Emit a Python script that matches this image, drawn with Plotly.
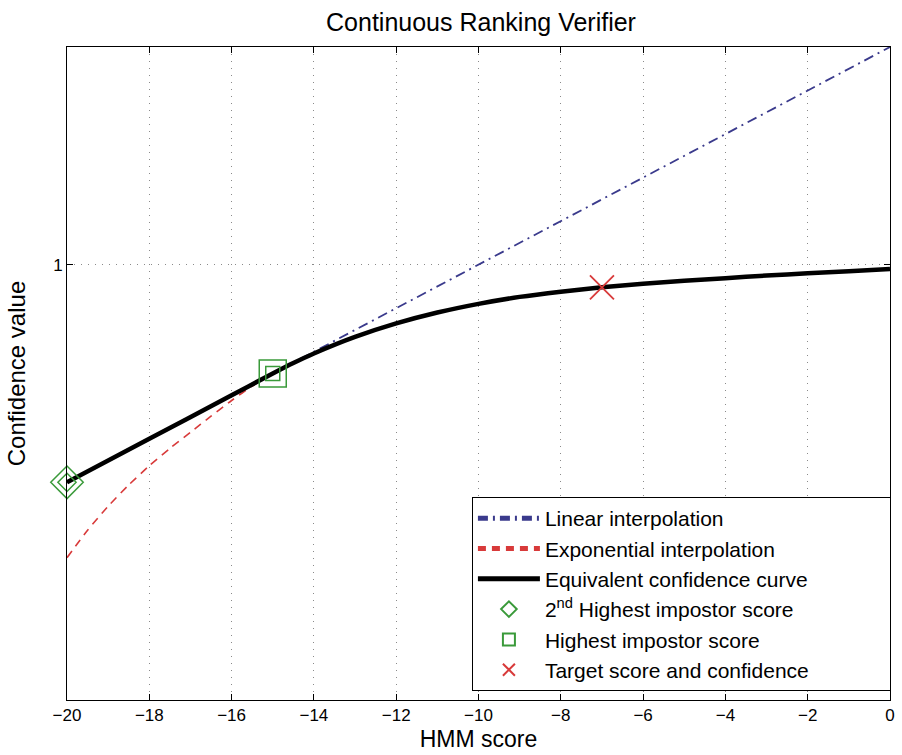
import plotly.graph_objects as go

# ---- data ----
x_lin = [-20, 0]
y_lin = [0.5, 1.5]

x_exp = [-20, -19.5, -19, -18.5, -18, -17.5, -17, -16.5, -16, -15.5, -15, -14.5, -14, -13, -12, -11, -10, -9, -8, -7, -6, -5, -4, -3, -2, -1, 0]
y_exp = [0.327, 0.39, 0.445, 0.494, 0.538, 0.578, 0.615, 0.652, 0.688, 0.721, 0.75, 0.774, 0.796, 0.834, 0.865, 0.89, 0.91, 0.926, 0.938, 0.948, 0.956, 0.963, 0.969, 0.975, 0.980, 0.985, 0.990]

x_eq = [-20, -18, -16, -15, -14.5, -14, -13, -12, -11, -10, -9, -8, -7, -6, -5, -4, -3, -2, -1, 0]
y_eq = [0.5, 0.6, 0.7, 0.75, 0.774, 0.796, 0.834, 0.865, 0.89, 0.91, 0.926, 0.938, 0.948, 0.956, 0.963, 0.969, 0.975, 0.980, 0.985, 0.990]

imp2_x, imp2_y = [-20], [0.5]
imp1_x, imp1_y = [-15], [0.75]
target_x, target_y = [-7], [0.948]

x_ticks = [-20, -18, -16, -14, -12, -10, -8, -6, -4, -2, 0]
y_ticks = [1]

GREEN = "#3a9a3a"
RED = "#d83a3a"
BLUE = "#3a3a8c"
FONT = "Liberation Sans, Arial, sans-serif"

fig = go.Figure()

fig.add_trace(go.Scatter(x=x_lin, y=y_lin, mode="lines", name="Linear interpolation",
                         line=dict(color=BLUE, width=1.8, dash="10px,5px,2px,5px")))
fig.add_trace(go.Scatter(x=x_exp, y=y_exp, mode="lines", name="Exponential interpolation",
                         line=dict(color=RED, width=1.6, dash="8px,6px", shape="spline", smoothing=0.6)))
fig.add_trace(go.Scatter(x=x_eq, y=y_eq, mode="lines", name="Equivalent confidence curve",
                         line=dict(color="black", width=4.5, shape="spline", smoothing=0.8)))

# big outer markers (no legend)
fig.add_trace(go.Scatter(x=imp2_x, y=imp2_y, mode="markers", showlegend=False, cliponaxis=False,
                         marker=dict(symbol="diamond-open", size=25, color=GREEN, line=dict(width=1.5, color=GREEN))))
fig.add_trace(go.Scatter(x=imp1_x, y=imp1_y, mode="markers", showlegend=False, cliponaxis=False,
                         marker=dict(symbol="square-open", size=27, color=GREEN, line=dict(width=1.5, color=GREEN))))

# inner markers with legend entries
fig.add_trace(go.Scatter(x=imp2_x, y=imp2_y, mode="markers", name="2<sup>nd</sup> Highest impostor score",
                         cliponaxis=False,
                         marker=dict(symbol="diamond-open", size=14, color=GREEN, line=dict(width=1.5, color=GREEN))))
fig.add_trace(go.Scatter(x=imp1_x, y=imp1_y, mode="markers", name="Highest impostor score",
                         cliponaxis=False,
                         marker=dict(symbol="square-open", size=14, color=GREEN, line=dict(width=1.5, color=GREEN))))
fig.add_trace(go.Scatter(x=target_x, y=target_y, mode="markers", name="Target score and confidence",
                         cliponaxis=False,
                         marker=dict(symbol="x-thin-open", size=24, color=RED, line=dict(width=1.8, color=RED))))

axis_common = dict(showline=True, linecolor="black", linewidth=1, mirror="ticks",
                   ticks="inside", ticklen=6, tickcolor="black",
                   showgrid=True, gridcolor="#8a8a8a", griddash="1px,6px", gridwidth=1.2,
                   zeroline=False, tickfont=dict(family=FONT, size=17, color="black"))

fig.update_xaxes(range=[-20, 0], tickvals=x_ticks,
                 title=dict(text="HMM score", font=dict(family=FONT, size=23, color="black"), standoff=6),
                 **axis_common)
fig.update_yaxes(range=[0, 1.5], tickvals=y_ticks, ticktext=["1"],
                 title=dict(text="Confidence value", font=dict(family=FONT, size=24, color="black"), standoff=20),
                 **axis_common)

fig.update_layout(
    width=902, height=755,
    margin=dict(l=67, r=7, t=47, b=52),
    paper_bgcolor="white", plot_bgcolor="white",
    title=dict(text="Continuous Ranking Verifier", x=(67 + 895) / 2 / 902, xanchor="center",
               y=1 - 22 / 755, yanchor="middle", font=dict(family=FONT, size=25, color="black")),
    legend=dict(x=0.492, y=0.0137, xanchor="left", yanchor="bottom",
                orientation="h",
                bgcolor="white", bordercolor="black", borderwidth=1,
                font=dict(family=FONT, size=21, color="black"),
                itemsizing="constant", itemwidth=62,
                entrywidth=340, entrywidthmode="pixels"),
    showlegend=True,
)

fig.write_html("out.html")
